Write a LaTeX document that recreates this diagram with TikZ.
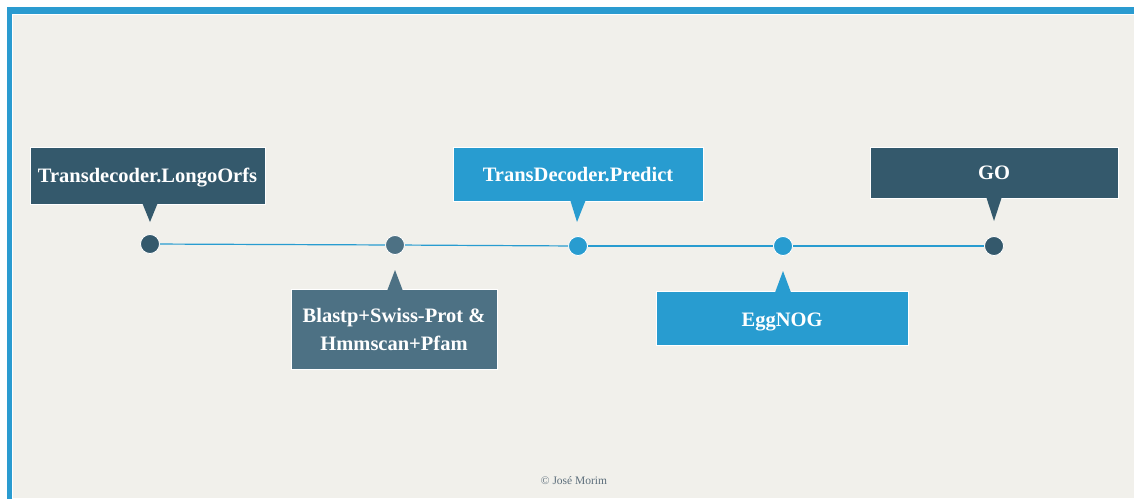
\documentclass[tikz,border=0pt]{standalone}
\usepackage{fontspec}
\setmainfont{Liberation Serif}
\definecolor{darkbox}{HTML}{34596C}
\definecolor{slatebox}{HTML}{4D7184}
\definecolor{bluebox}{HTML}{289CD0}
\definecolor{bgbeige}{HTML}{F1F0EB}
\definecolor{framblue}{HTML}{2A9BD0}
\definecolor{footc}{HTML}{5C6E7B}
\begin{document}
\begin{tikzpicture}[x=1pt,y=-1pt,
  card/.style={draw=white, line width=0.8pt, text=white, font=\bfseries\fontsize{20.5}{25}\selectfont, align=center, inner sep=0pt},
  dot/.style={circle, draw=white, line width=0.8pt, minimum size=19pt, inner sep=0pt}
]
\useasboundingbox (0,0) rectangle (1134,499);
\fill[white] (0,0) rectangle (1134,499);
\fill[framblue] (7,7) rectangle (1134,13.5);
\fill[framblue] (7,7) rectangle (11.5,499);
\fill[bgbeige] (12.5,14.5) rectangle (1134,497.5);

% timeline dots
\node[dot, fill=darkbox] (d1) at (150,244) {};
\node[dot, fill=slatebox] (d2) at (395,245) {};
\node[dot, fill=bluebox] (d3) at (578,246) {};
\node[dot, fill=bluebox] (d4) at (783,246) {};
\node[dot, fill=darkbox] (d5) at (994,246) {};
\draw[bluebox, line width=1.2pt] (d1) -- (d2);
\draw[bluebox, line width=1.2pt] (d2) -- (d3);
\draw[bluebox, line width=1.2pt] (d3) -- (d4);
\draw[bluebox, line width=1.2pt] (d4) -- (d5);

% cards
\node[card, fill=darkbox, minimum width=235pt, minimum height=57pt, text height=16pt, text depth=3pt] (c1) at (147.5,175.5) {Transdecoder.LongoOrfs};
\node[card, fill=slatebox, minimum width=206pt, minimum height=80pt] (c2) at (394,329.5) {Blastp+Swiss-Prot \&\\[3pt] Hmmscan+Pfam};
\node[card, fill=bluebox, minimum width=250pt, minimum height=54pt, text height=16.5pt, text depth=2pt] (c3) at (578,174) {TransDecoder.Predict};
\node[card, fill=bluebox, minimum width=252pt, minimum height=54pt, text height=17pt, text depth=1pt] (c4) at (782,318) {EggNOG};
\node[card, fill=darkbox, minimum width=248pt, minimum height=51pt] (c5) at (994,172.5) {GO};

% pointers (overlap the card edge so they join it)
\fill[darkbox] ([xshift=-8pt,yshift=2pt]c1.south -| d1) -- ([xshift=8pt,yshift=2pt]c1.south -| d1) -- (150,222) -- cycle;
\fill[slatebox] ([xshift=-8pt,yshift=-2pt]c2.north -| d2) -- ([xshift=8pt,yshift=-2pt]c2.north -| d2) -- (395,270) -- cycle;
\fill[bluebox] ([xshift=-8pt,yshift=2pt]c3.south -| d3) -- ([xshift=8pt,yshift=2pt]c3.south -| d3) -- (577,222) -- cycle;
\fill[bluebox] ([xshift=-8pt,yshift=-2pt]c4.north -| d4) -- ([xshift=8pt,yshift=-2pt]c4.north -| d4) -- (783,271) -- cycle;
\fill[darkbox] ([xshift=-8pt,yshift=2pt]c5.south -| d5) -- ([xshift=8pt,yshift=2pt]c5.south -| d5) -- (994,221) -- cycle;

\node[text=footc, font=\fontsize{11.5}{13}\selectfont] (foot) at (574,480.5) {©~José Morim};
\end{tikzpicture}
\end{document}
